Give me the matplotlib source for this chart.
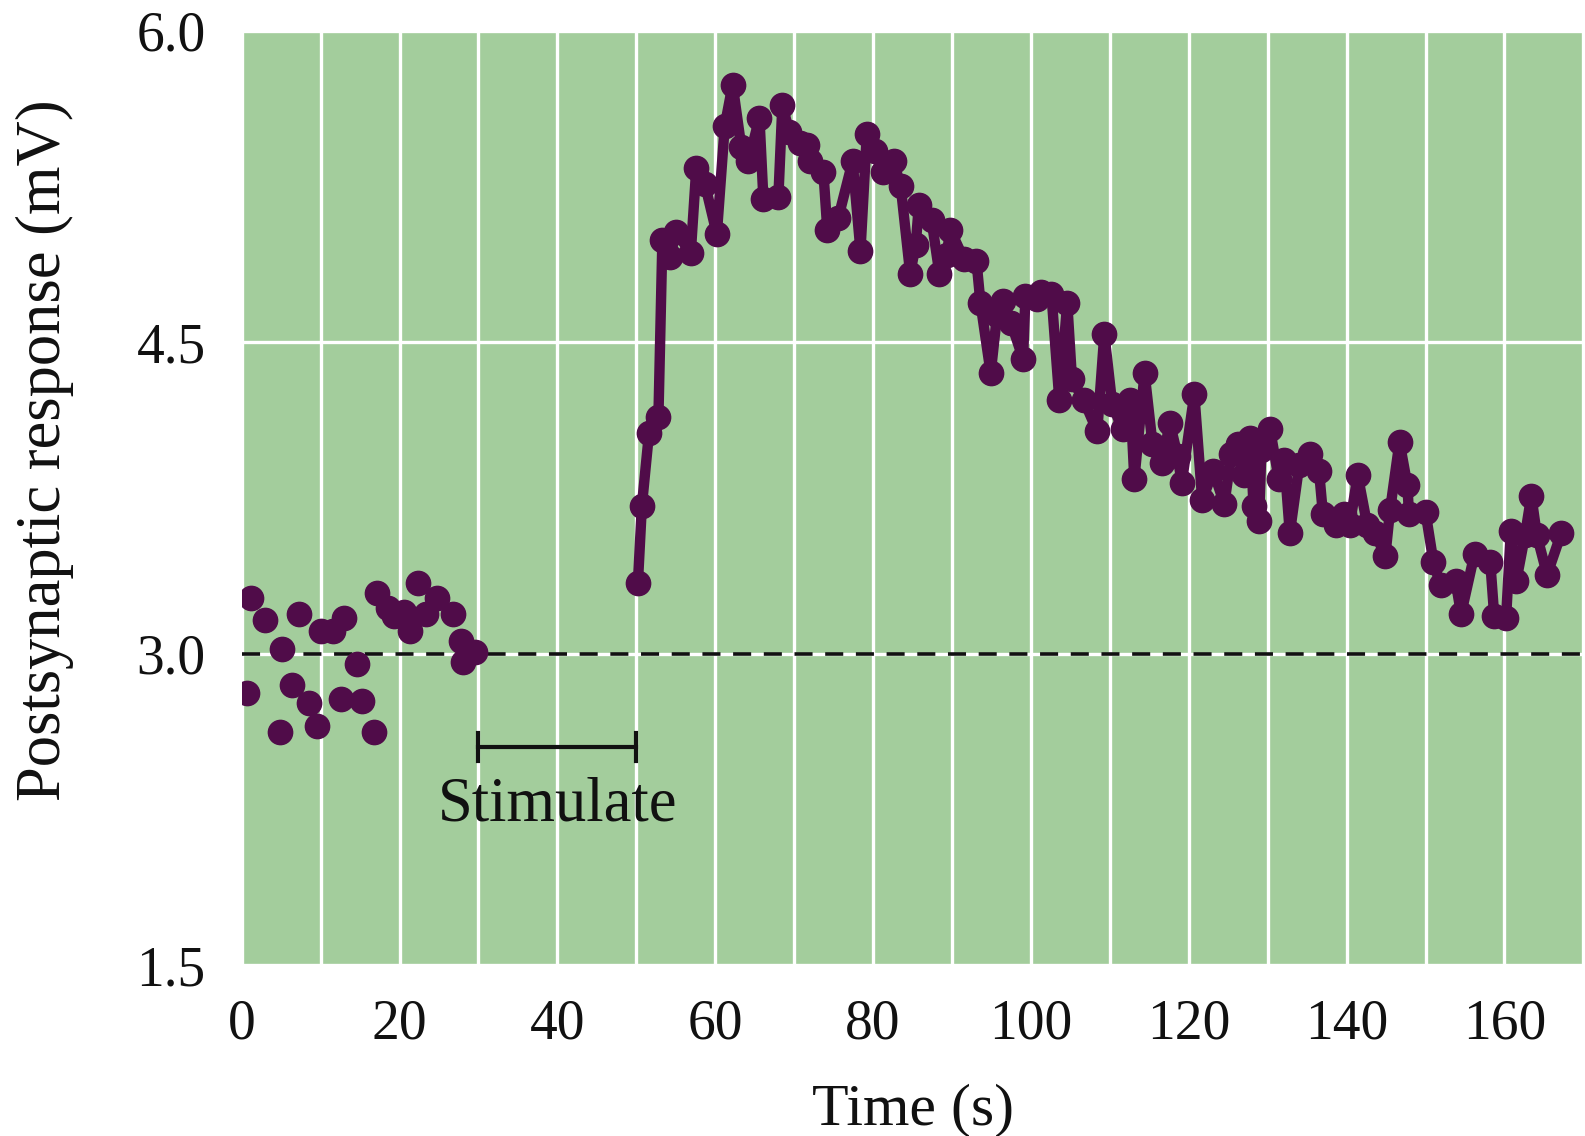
import matplotlib
matplotlib.use("Agg")
import matplotlib.pyplot as plt

# Baseline (pre-stimulation) responses: scatter only
base_t = [0.7, 1.2, 2.9, 4.8, 5.1, 6.4, 7.3, 8.5, 9.6, 10.0, 11.6, 12.6, 13.0,
          14.6, 15.3, 16.8, 17.2, 18.5, 19.3, 20.5, 21.3, 22.3, 23.4, 24.7,
          26.8, 27.8, 28.0, 29.5]
base_v = [2.81, 3.27, 3.16, 2.62, 3.02, 2.85, 3.19, 2.76, 2.65, 3.11, 3.11, 2.78,
          3.17, 2.95, 2.77, 2.62, 3.29, 3.22, 3.18, 3.20, 3.11, 3.34, 3.19, 3.27,
          3.19, 3.06, 2.96, 3.01]

# Post-stimulation responses: line + markers
post_t = [50.2, 50.7, 51.6, 52.8, 53.3, 54.3, 55.0, 56.9, 57.6, 58.7, 60.2, 61.2,
          62.2, 63.3, 64.2, 65.6, 66.1, 68.0, 68.5, 69.4, 70.8, 71.6, 72.0, 73.7,
          74.2, 75.6, 77.4, 78.4, 79.2, 80.3, 81.3, 82.6, 83.5, 84.7, 85.4, 85.8,
          87.4, 88.4, 89.3, 89.8, 91.5, 93.1, 93.6, 94.9, 95.7, 96.5, 97.5, 99.0,
          99.3, 100.8, 101.3, 102.6, 103.6, 104.6, 105.2, 106.7, 108.4, 109.3,
          110.3, 111.6, 112.6, 113.1, 114.4, 115.4, 116.6, 117.6, 118.6, 119.1,
          120.7, 121.7, 123.1, 124.5, 125.4, 126.2, 127.0, 127.8, 128.2, 128.9,
          129.2, 130.3, 131.4, 132.1, 132.8, 134.0, 135.4, 136.5, 137.0, 138.7,
          139.7, 140.4, 141.4, 142.6, 143.6, 144.9, 145.5, 146.7, 147.7, 147.9,
          150.0, 151.0, 151.9, 153.8, 154.5, 156.2, 158.2, 158.7, 160.2, 160.8,
          161.5, 162.6, 163.4, 164.1, 165.4, 167.2]
post_v = [3.34, 3.71, 4.06, 4.14, 4.99, 4.91, 5.03, 4.93, 5.34, 5.26, 5.02, 5.54,
          5.74, 5.44, 5.37, 5.58, 5.19, 5.20, 5.64, 5.51, 5.46, 5.45, 5.37, 5.32,
          5.04, 5.10, 5.37, 4.94, 5.50, 5.42, 5.32, 5.37, 5.25, 4.83, 4.97, 5.16,
          5.09, 4.83, 4.92, 5.04, 4.90, 4.89, 4.69, 4.35, 4.63, 4.70, 4.59, 4.42,
          4.72, 4.71, 4.74, 4.73, 4.22, 4.69, 4.32, 4.22, 4.07, 4.54, 4.20, 4.08,
          4.22, 3.84, 4.35, 4.01, 3.92, 4.11, 3.95, 3.82, 4.25, 3.74, 3.88, 3.72,
          3.96, 4.01, 3.86, 4.04, 3.71, 3.64, 3.98, 4.08, 3.84, 3.93, 3.58, 3.91,
          3.96, 3.88, 3.67, 3.62, 3.67, 3.62, 3.86, 3.62, 3.58, 3.47, 3.69, 4.02,
          3.81, 3.67, 3.68, 3.44, 3.33, 3.35, 3.19, 3.48, 3.44, 3.18, 3.17, 3.59,
          3.35, 3.57, 3.76, 3.57, 3.38, 3.58]

stim_start, stim_end, stim_level = 30, 50, 2.55
baseline = 3.0
x_ticks = [0, 20, 40, 60, 80, 100, 120, 140, 160]
y_ticks = [1.5, 3.0, 4.5, 6.0]

plt.rcParams['font.family'] = ['Liberation Serif', 'DejaVu Serif']

purple = '#500c49'
green = '#a3cd9c'
ink = '#111111'

fig = plt.figure(figsize=(15.85, 11.36), dpi=100)
ax = fig.add_axes([0.1525, 0.1505, 0.8465, 0.8225])
ax.set_facecolor(green)

ax.set_xlim(0, 170)
ax.set_ylim(1.5, 6.0)
ax.set_xticks(x_ticks)
ax.set_xticks(range(10, 171, 20), minor=True)
ax.set_yticks(y_ticks)
ax.set_yticklabels([f"{v:.1f}" for v in y_ticks])
ax.grid(True, which='both', color='white', linewidth=2.4)
ax.set_axisbelow(True)
for s in ax.spines.values():
    s.set_visible(False)
ax.tick_params(which='both', length=0, labelsize=40, colors=ink)
ax.tick_params(axis='x', pad=24)
ax.tick_params(axis='y', pad=26)

ax.axhline(baseline, color=ink, linewidth=2.6, linestyle=(0, (5, 3.5)), zorder=2)

ax.plot(base_t, base_v, linestyle='none', marker='o', markersize=17.5,
        color=purple, zorder=3)
ax.plot(post_t, post_v, linestyle='-', linewidth=7.5, marker='o', markersize=17.5,
        color=purple, zorder=3)

# Stimulation bar
ax.plot([stim_start, stim_end], [stim_level, stim_level], color=ink, linewidth=3.0, zorder=3)
for xe in (stim_start, stim_end):
    ax.plot([xe, xe], [stim_level - 0.068, stim_level + 0.068], color=ink,
            linewidth=3.0, zorder=3)
ax.text((stim_start + stim_end) / 2, stim_level - 0.14, "Stimulate", ha='center', va='top',
        fontsize=45, color=ink)

ax.set_xlabel("Time (s)", fontsize=43, labelpad=24, color=ink)
ax.set_ylabel("Postsynaptic response (mV)", fontsize=45, color=ink)
ax.yaxis.set_label_coords(-0.125, 0.551)

fig.savefig("out.png", dpi=100, facecolor='white')
